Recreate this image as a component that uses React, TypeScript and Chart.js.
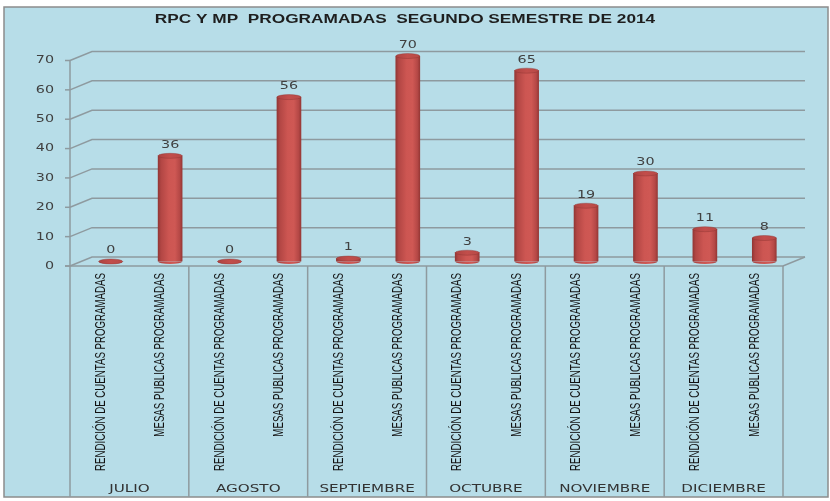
import React, { useEffect, useRef } from "react";
import { Chart, registerables } from "chart.js";

Chart.register(...registerables);

const TITLE = "RPC Y MP  PROGRAMADAS  SEGUNDO SEMESTRE DE 2014";
const MONTHS = ["JULIO", "AGOSTO", "SEPTIEMBRE", "OCTUBRE", "NOVIEMBRE", "DICIEMBRE"];
const SUBCATEGORIES = ["RENDICIÓN DE CUENTAS PROGRAMADAS", "MESAS PUBLICAS PROGRAMADAS"];
const RENDICION_VALUES = [0, 0, 1, 3, 19, 11];
const MESAS_VALUES = [36, 56, 70, 65, 30, 8];
const Y_MIN = 0;
const Y_MAX = 70;
const Y_STEP = 10;

const LABELS = MONTHS.flatMap(() => SUBCATEGORIES);
const VALUES = MONTHS.flatMap((_, i) => [RENDICION_VALUES[i], MESAS_VALUES[i]]);

const W = 830;
const H = 501;
const DX = 11;
const DY = 4.5;
const SX = 1.38;
const SX_ROT = 1.6;
const BAR_W = 24;
const RY = 2.5;
const BG = "#b7dde8";
const GRID = "#8e9a9f";

function drawText(
  ctx: CanvasRenderingContext2D,
  text: string,
  x: number,
  y: number,
  font: string,
  color: string,
  sx: number,
  align: CanvasTextAlign = "center",
  rotate = false
) {
  ctx.save();
  ctx.translate(x, y);
  ctx.scale(sx, 1);
  if (rotate) ctx.rotate(-Math.PI / 2);
  ctx.font = font;
  ctx.fillStyle = color;
  ctx.textAlign = align;
  ctx.textBaseline = "middle";
  ctx.fillText(text, 0, 0);
  ctx.restore();
}

function bodyGradient(ctx: CanvasRenderingContext2D, cx: number, w: number) {
  if (!Number.isFinite(cx)) return "#c0504d";
  const g = ctx.createLinearGradient(cx - w / 2, 0, cx + w / 2, 0);
  g.addColorStop(0, "#933735");
  g.addColorStop(0.12, "#b24644");
  g.addColorStop(0.45, "#cd5652");
  g.addColorStop(0.7, "#cf5854");
  g.addColorStop(0.9, "#b54846");
  g.addColorStop(1, "#973836");
  return g;
}

function topGradient(ctx: CanvasRenderingContext2D, cx: number, w: number) {
  if (!Number.isFinite(cx)) return "#bf4d4a";
  const g = ctx.createLinearGradient(cx - w / 2, 0, cx + w / 2, 0);
  g.addColorStop(0, "#ad4341");
  g.addColorStop(0.5, "#c24e4b");
  g.addColorStop(1, "#b84a47");
  return g;
}

const excel3d = {
  id: "excel3d",
  beforeDraw(chart: any) {
    const ctx: CanvasRenderingContext2D = chart.ctx;
    ctx.save();
    ctx.fillStyle = "#ffffff";
    ctx.fillRect(0, 0, W, H);
    ctx.fillStyle = BG;
    ctx.fillRect(4, 7, 824, 490);
    ctx.strokeStyle = "#8c8c8c";
    ctx.lineWidth = 1.5;
    ctx.strokeRect(4, 7, 824, 490);
    drawText(ctx, TITLE, 405, 20, 'bold 12.5px "Liberation Sans", Arial, sans-serif', "#1e1e1e", SX);
    ctx.restore();
  },
  beforeDatasetsDraw(chart: any) {
    const ctx: CanvasRenderingContext2D = chart.ctx;
    const a = chart.chartArea;
    const xs = chart.scales.x;
    const ys = chart.scales.y;
    const fl = a.left - DX;
    const fr = a.right - DX;
    const bl = a.left + DX;
    const br = a.right + DX;
    const p0 = ys.getPixelForValue(0);
    const pTop = ys.getPixelForValue(Y_MAX);
    ctx.save();
    ctx.strokeStyle = GRID;
    ctx.lineWidth = 1.5;
    const tickVals: number[] = ys.ticks.map((t: any) => t.value);
    for (const v of tickVals) {
      const py = ys.getPixelForValue(v);
      ctx.beginPath();
      ctx.moveTo(fl, py + DY);
      ctx.lineTo(bl, py - DY);
      ctx.lineTo(br, py - DY);
      ctx.stroke();
      ctx.beginPath();
      ctx.moveTo(fl - 5, py + DY);
      ctx.lineTo(fl, py + DY);
      ctx.stroke();
      drawText(ctx, String(v), 54, py + DY, '11px "DejaVu Sans", Verdana, sans-serif', "#404040", 1.3, "right");
    }
    ctx.beginPath();
    ctx.moveTo(fl - 5, p0 + DY);
    ctx.lineTo(fr, p0 + DY);
    ctx.lineTo(br, p0 - DY);
    ctx.stroke();
    ctx.beginPath();
    ctx.moveTo(fl, pTop + DY);
    ctx.lineTo(fl, p0 + DY);
    ctx.stroke();
    const catW = (a.right - a.left) / LABELS.length;
    for (let g = 0; g <= MONTHS.length; g++) {
      const xx = a.left - DX + g * 2 * catW;
      ctx.beginPath();
      ctx.moveTo(xx, p0 + DY);
      ctx.lineTo(xx, 497);
      ctx.stroke();
    }
    LABELS.forEach((lab, i) => {
      const cx = xs.getPixelForValue(i) - DX;
      drawText(ctx, lab, cx + 1, 273, '9.7px "Liberation Sans", Arial, sans-serif', "#111111", SX_ROT, "right", true);
    });
    MONTHS.forEach((m, g) => {
      const cx = (xs.getPixelForValue(g * 2) + xs.getPixelForValue(g * 2 + 1)) / 2 - DX;
      drawText(ctx, m, cx, 489, '11px "DejaVu Sans", Verdana, sans-serif', "#333333", SX);
    });
    ctx.restore();
  },
  afterDatasetsDraw(chart: any) {
    const ctx: CanvasRenderingContext2D = chart.ctx;
    const meta = chart.getDatasetMeta(0);
    ctx.save();
    meta.data.forEach((el: any, i: number) => {
      const { x, y, base } = el.getProps(["x", "y", "base"], true);
      const w = BAR_W;
      ctx.beginPath();
      ctx.ellipse(x, base, w / 2, RY, 0, 0, Math.PI);
      ctx.closePath();
      ctx.fillStyle = bodyGradient(ctx, x, w);
      ctx.fill();
      ctx.beginPath();
      ctx.ellipse(x, y, w / 2, RY, 0, 0, Math.PI * 2);
      ctx.fillStyle = topGradient(ctx, x, w);
      ctx.fill();
      ctx.strokeStyle = "rgba(140,50,48,0.6)";
      ctx.lineWidth = 0.7;
      ctx.stroke();
      drawText(ctx, String(VALUES[i]), x, y - RY - 8.5, '11px "DejaVu Sans", Verdana, sans-serif', "#404040", 1.3);
    });
    ctx.restore();
  },
};

export default function App() {
  const ref = useRef<HTMLCanvasElement | null>(null);
  useEffect(() => {
    if (!ref.current) return;
    const chart = new Chart(ref.current, {
      type: "bar",
      data: {
        labels: LABELS,
        datasets: [
          {
            data: VALUES,
            barThickness: BAR_W,
            borderWidth: 0,
            backgroundColor: (c: any) => {
              const ch = c.chart;
              const xs = ch.scales && ch.scales.x;
              if (!xs || c.dataIndex == null) return "#c0504d";
              return bodyGradient(ch.ctx, xs.getPixelForValue(c.dataIndex), BAR_W);
            },
          },
        ],
      },
      options: {
        responsive: false,
        animation: false,
        events: [],
        layout: { padding: { top: 56, right: 36, left: 0, bottom: 0 } },
        plugins: {
          legend: { display: false },
          title: { display: false },
          tooltip: { enabled: false },
        },
        scales: {
          x: {
            type: "category",
            offset: true,
            grid: { display: false },
            border: { display: false },
            ticks: { display: false },
            afterFit: (s: any) => {
              s.height = 239.5;
            },
          },
          y: {
            min: Y_MIN,
            max: Y_MAX,
            grid: { display: false },
            border: { display: false },
            ticks: { display: false, stepSize: Y_STEP },
            afterFit: (s: any) => {
              s.width = 81;
            },
          },
        },
      },
      plugins: [excel3d],
    });
    return () => chart.destroy();
  }, []);
  return (
    <div style={{ position: "fixed", left: 0, top: 0, width: W, height: H }}>
      <canvas ref={ref} width={W} height={H} style={{ display: "block", width: W, height: H }} />
    </div>
  );
}
